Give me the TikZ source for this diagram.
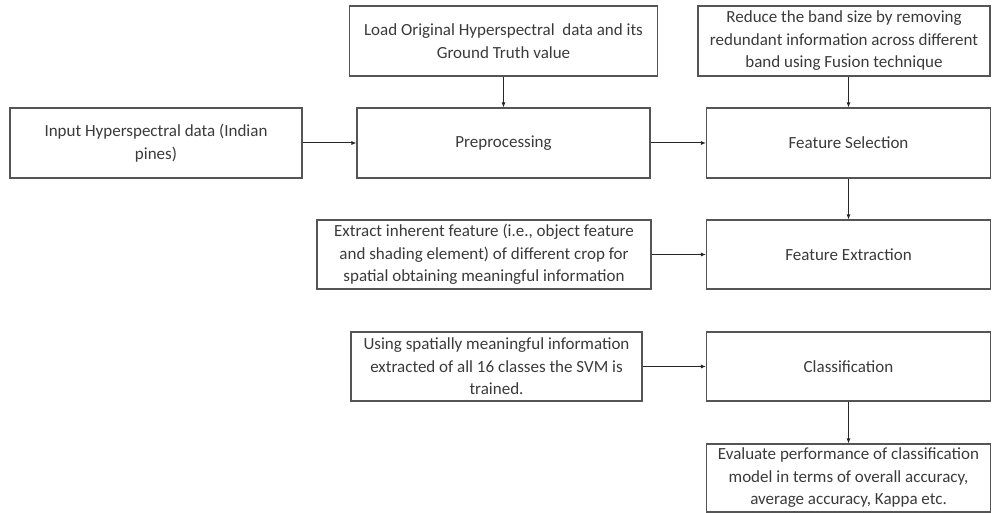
\documentclass[tikz,border=0pt]{standalone}
\usepackage{fontspec}
\setmainfont{Carlito}
\usetikzlibrary{arrows.meta}
\definecolor{bordure}{HTML}{555555}
\definecolor{texte}{HTML}{3A3A3A}
\begin{document}
\begin{tikzpicture}[x=1pt,y=-1pt]
  \tikzstyle{boite}=[draw=bordure, line width=1.1pt, rectangle, align=center,
  text=texte, inner sep=2pt, font=\fontsize{17}{22.5}\selectfont]
  \tikzstyle{fleche}=[-{Latex[length=5pt,width=4pt]}, draw=black!85, line width=1pt]
  \useasboundingbox (0,0) rectangle (992,513);
  % ligne du haut
  \node[boite, minimum width=308pt, minimum height=70pt] (load) at (503.5,41)
    {Load Original Hyperspectral\ \ data and its\\Ground Truth value};
  \node[boite, minimum width=292pt, minimum height=70pt] (red) at (844,41)
    {Reduce the band size by removing\\redundant information across different\\band using Fusion technique};
  % chaine principale
  \node[boite, minimum width=292pt, minimum height=70pt] (in) at (156,143)
    {Input Hyperspectral data (Indian\\pines)};
  \node[boite, minimum width=293pt, minimum height=70pt] (pre) at (503.5,143) {Preprocessing};
  \node[boite, minimum width=284pt, minimum height=70pt] (fs) at (848.5,143) {Feature Selection};
  \node[boite, minimum width=334pt, minimum height=69pt] (ext) at (484,254.5)
    {Extract inherent feature (i.e., object feature\\and shading element) of different crop for\\spatial obtaining meaningful information};
  \node[boite, minimum width=284pt, minimum height=69pt] (fe) at (848.5,254.5) {Feature Extraction};
  \node[boite, minimum width=291pt, minimum height=69pt] (use) at (496.5,366.5)
    {Using spatially meaningful information\\extracted of all 16 classes the SVM is\\trained.};
  \node[boite, minimum width=284pt, minimum height=69pt] (cl) at (848.5,366.5) {Classification};
  \node[boite, minimum width=284pt, minimum height=68pt] (ev) at (848.5,478)
    {Evaluate performance of classification\\model in terms of overall accuracy,\\average accuracy, Kappa etc.};
  \foreach \a/\b in {in/pre,pre/fs,ext/fe,use/cl,load/pre,fs/fe,cl/ev} {
    \draw[fleche] (\a) -- (\b);
  }
  \draw[fleche] (red.south -| fs) -- (fs);
\end{tikzpicture}
\end{document}
